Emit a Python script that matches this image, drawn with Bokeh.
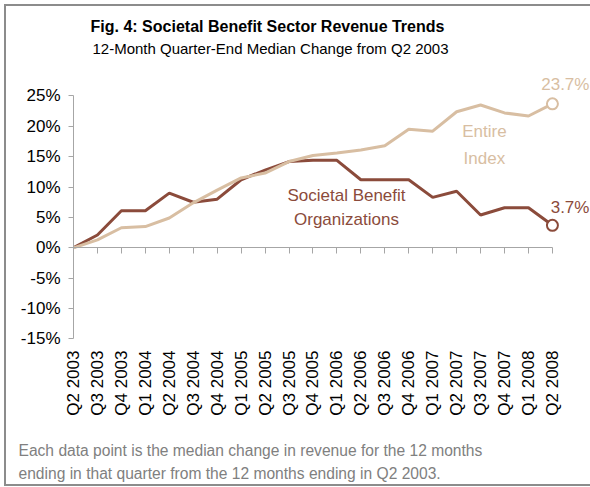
import math
from bokeh.plotting import figure
from bokeh.models import Range1d, LinearAxis, FixedTicker, Label, Title, ColumnDataSource, PrintfTickFormatter
from bokeh.embed import file_html
from bokeh.resources import INLINE
from bokeh.core.properties import value

quarters = ["Q2 2003", "Q3 2003", "Q4 2003", "Q1 2004", "Q2 2004", "Q3 2004", "Q4 2004",
            "Q1 2005", "Q2 2005", "Q3 2005", "Q4 2005", "Q1 2006", "Q2 2006", "Q3 2006",
            "Q4 2006", "Q1 2007", "Q2 2007", "Q3 2007", "Q4 2007", "Q1 2008", "Q2 2008"]
societal = [0, 2.1, 6.1, 6.1, 9.0, 7.5, 8.0, 11.2, 12.8, 14.2, 14.4, 14.4, 11.2, 11.2,
            11.2, 8.3, 9.3, 5.4, 6.6, 6.6, 3.7]
entire = [0, 1.3, 3.3, 3.5, 4.9, 7.4, 9.5, 11.5, 12.3, 14.2, 15.2, 15.6, 16.1, 16.8,
          19.5, 19.2, 22.4, 23.5, 22.2, 21.7, 23.7]
y_ticks = [-15, -10, -5, 0, 5, 10, 15, 20, 25]

title_text = "Fig. 4: Societal Benefit Sector Revenue Trends"
subtitle_text = "12-Month Quarter-End Median Change from Q2 2003"
note_lines = ["Each data point is the median change in revenue for the 12 months",
              "ending in that quarter from the 12 months ending in Q2 2003."]
entire_name = "Entire\nIndex"
societal_name = "Societal Benefit\nOrganizations"

BROWN = "#8B4B3B"
TAN = "#D8BEA2"
AXIS = "#A6A6A6"
FONT = "Liberation Sans"

idx = list(range(len(quarters)))

p = figure(width=590, height=487, output_backend="svg", toolbar_location=None,
           x_range=Range1d(0, 21.59), y_range=Range1d(-15.26, 40.71),
           x_axis_type=None, y_axis_type=None,
           min_border_left=73, min_border_right=0, min_border_top=0, min_border_bottom=147)
p.outline_line_color = None
p.border_fill_color = None
p.background_fill_color = None
p.styles = {"box-shadow": "inset 4px 4px 0 0 #ffffff, inset 0 -1px 0 0 #ffffff, "
                          "inset 6px 6px 0 0 #8c8c8c, inset 0 -3px 0 0 #8c8c8c"}

# y axis
yaxis = LinearAxis(ticker=FixedTicker(ticks=y_ticks), formatter=PrintfTickFormatter(format="%d%%"),
                   bounds=(y_ticks[0], y_ticks[-1]))
yaxis.axis_line_color = AXIS
yaxis.axis_line_width = 1
yaxis.major_tick_line_color = AXIS
yaxis.major_tick_out = 5
yaxis.major_tick_in = 0
yaxis.minor_tick_line_color = None
yaxis.major_label_standoff = 8
yaxis.major_label_text_font = FONT
yaxis.major_label_text_font_size = "17px"
yaxis.major_label_text_color = "#000000"
p.add_layout(yaxis, "left")

# category labels at the bottom (a blank axis label only keeps room above the note)
qaxis = LinearAxis(ticker=FixedTicker(ticks=idx),
                   major_label_overrides={i: q for i, q in zip(idx, quarters)})
qaxis.axis_line_color = None
qaxis.major_tick_line_color = None
qaxis.minor_tick_line_color = None
qaxis.major_tick_in = 0
qaxis.major_tick_out = 0
qaxis.major_label_orientation = math.pi / 2
qaxis.major_label_standoff = 10
qaxis.major_label_text_font = FONT
qaxis.major_label_text_font_size = "17px"
qaxis.major_label_text_color = "#000000"
qaxis.axis_label = " "
qaxis.axis_label_text_font_size = "10px"
qaxis.axis_label_standoff = 7
p.add_layout(qaxis, "below")

# x axis line at zero with ticks pointing down
zaxis = LinearAxis(ticker=FixedTicker(ticks=idx), bounds=(idx[0], idx[-1]), fixed_location=0,
                   major_label_overrides={i: "" for i in idx})
zaxis.axis_line_color = AXIS
zaxis.major_tick_line_color = AXIS
zaxis.major_tick_in = 0
zaxis.major_tick_out = 6
zaxis.minor_tick_line_color = None
zaxis.major_label_standoff = 0
p.add_layout(zaxis, "below")

p.add_layout(Title(text="\n".join(note_lines), align="left", offset=-55, standoff=0,
                   text_font=FONT, text_font_size="15.6px", text_font_style="normal",
                   text_color="#808080", text_line_height=1.4), "below")

src = ColumnDataSource(dict(x=idx, soc=societal, ent=entire))
p.line("x", "soc", source=src, line_color=BROWN, line_width=3)
p.line("x", "ent", source=src, line_color=TAN, line_width=3)

p.scatter(x=[idx[-1]], y=[entire[-1]], size=11, fill_color="white", line_color=TAN, line_width=2)
p.scatter(x=[idx[-1]], y=[societal[-1]], size=11, fill_color="white", line_color=BROWN, line_width=2)

p.text(x=[idx[-1]], y=[entire[-1]], text=[f"{entire[-1]}%"], x_offset=37, y_offset=-19,
       text_align="right", text_baseline="alphabetic", text_font=value(FONT),
       text_font_size="17px", text_color=TAN)
p.text(x=[idx[-1]], y=[societal[-1]], text=[f"{societal[-1]}%"], x_offset=37, y_offset=-18,
       text_align="right", text_baseline="alphabetic", text_font=value(FONT),
       text_font_size="17px", text_color=BROWN)

p.text(x=[17.16], y=[16.89], text=[entire_name], text_align="center", text_baseline="middle",
       text_font=value(FONT), text_font_size="17px", text_color=TAN, text_line_height=1.41)
p.text(x=[11.4], y=[6.63], text=[societal_name], text_align="center", text_baseline="middle",
       text_font=value(FONT), text_font_size="17px", text_color=BROWN, text_line_height=1.31)

p.add_layout(Label(x=194, y=306, x_units="screen", y_units="screen", text=title_text,
                   text_align="center", text_font=FONT, text_font_style="bold",
                   text_font_size="16px", text_color="#000000"))
p.add_layout(Label(x=197, y=284, x_units="screen", y_units="screen", text=subtitle_text,
                   text_align="center", text_font=FONT, text_font_size="15px", text_color="#000000"))

open("out.html", "w").write(file_html(p, INLINE))
